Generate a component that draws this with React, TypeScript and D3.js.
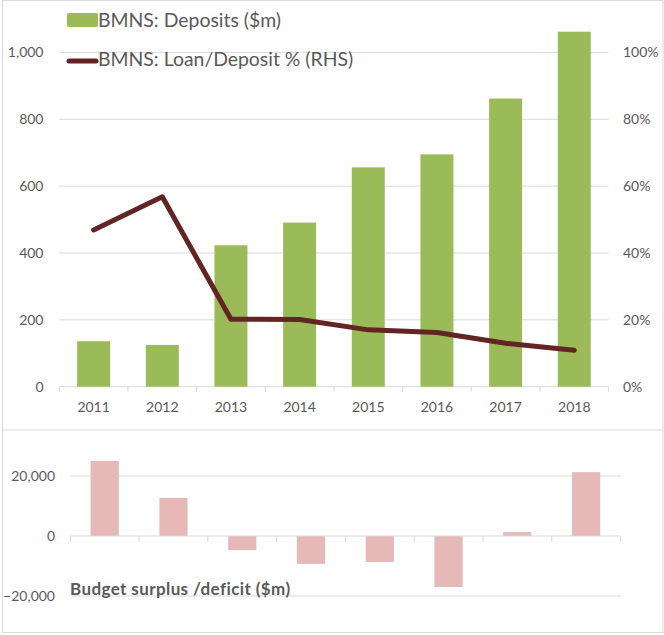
import React from "react";
import * as d3 from "d3";

const years = ["2011", "2012", "2013", "2014", "2015", "2016", "2017", "2018"];
const deposits = [136, 125, 423, 491, 656, 695, 862, 1062];
const loanDepositPct = [46.9, 56.8, 20.2, 20.1, 17.0, 16.2, 13.0, 10.9];
const budget = [25000, 12700, -4700, -9300, -8700, -17000, 1300, 21300];
const leftTicks = [0, 200, 400, 600, 800, 1000];
const rightTicks = [0, 20, 40, 60, 80, 100];
const budgetTicks = [-20000, 0, 20000];

const W = 664;
const H = 635;
const FONT = "Lato, 'Open Sans', sans-serif";
const TXT = "#595959";
const GRID = "#D9D9D9";

export default function App() {
  const xTop = d3.scaleBand<string>().domain(years).range([59.3, 608.6]).paddingInner(0.52).paddingOuter(0.26);
  const yL = d3.scaleLinear().domain([0, 1000]).range([386.7, 52.4]);
  const yR = d3.scaleLinear().domain([0, 100]).range([386.7, 52.4]);
  const xBot = d3.scaleBand<string>().domain(years).range([70.3, 620.5]).paddingInner(0.59).paddingOuter(0.295);
  const yB = d3.scaleLinear().domain([-20000, 20000]).range([596, 476]);

  const fmt = d3.format(",");
  const line = d3
    .line<number>()
    .x((_, i) => (xTop(years[i]) as number) + xTop.bandwidth() / 2)
    .y((d) => yR(d));

  const topStep = xTop.step();
  const topStart = 59.3;
  const botStep = xBot.step();
  const botStart = 70.3;

  return (
    <svg width={W} height={H} style={{ position: "absolute", left: 0, top: 0, background: "#fff" }} fontFamily={FONT}>
      <rect x={0} y={0} width={W} height={H} fill="#fff" />
      {/* frame */}
      <rect x={2.5} y={0.5} width={660.5} height={632} fill="none" stroke={GRID} strokeWidth={1} />
      <line x1={2.5} x2={663} y1={430} y2={430} stroke={GRID} strokeWidth={1} />

      {/* top chart gridlines */}
      {leftTicks.filter((t) => t > 0).map((t) => (
        <line key={t} x1={59.3} x2={608.6} y1={yL(t)} y2={yL(t)} stroke={GRID} strokeWidth={1} />
      ))}
      {/* axis */}
      <line x1={59.3} x2={608.6} y1={yL(0)} y2={yL(0)} stroke={GRID} strokeWidth={1} />
      {d3.range(years.length + 1).map((i) => (
        <line key={i} x1={topStart + i * topStep} x2={topStart + i * topStep} y1={yL(0)} y2={yL(0) + 5} stroke={GRID} />
      ))}

      {/* bars */}
      {deposits.map((d, i) => (
        <rect key={years[i]} x={xTop(years[i])} y={yL(d)} width={xTop.bandwidth()} height={yL(0) - yL(d)} fill="#9BBB59" />
      ))}
      {/* line */}
      <path d={line(loanDepositPct) || ""} fill="none" stroke="#632523" strokeWidth={5} strokeLinejoin="round" strokeLinecap="round" />

      {/* left ticks */}
      {leftTicks.map((t) => (
        <text key={t} x={43.5} y={yL(t)} dy="0.35em" textAnchor="end" fontSize={14} fill={TXT}>
          {fmt(t)}
        </text>
      ))}
      {/* right ticks */}
      {rightTicks.map((t) => (
        <text key={t} x={623} y={yR(t)} dy="0.35em" textAnchor="start" fontSize={14} fill={TXT}>
          {t + "%"}
        </text>
      ))}
      {/* x labels */}
      {years.map((y) => (
        <text key={y} x={(xTop(y) as number) + xTop.bandwidth() / 2} y={407} dy="0.35em" textAnchor="middle" fontSize={14} fill={TXT}>
          {y}
        </text>
      ))}

      {/* legend */}
      <rect x={67} y={13} width={31} height={14} rx={2} fill="#9BBB59" />
      <text x={98} y={20} dy="0.35em" fontSize={19.4} fill={TXT}>BMNS: Deposits ($m)</text>
      <line x1={69} x2={96} y1={61} y2={61} stroke="#632523" strokeWidth={5} strokeLinecap="round" />
      <text x={98} y={59} dy="0.35em" fontSize={19.4} fill={TXT}>BMNS: Loan/Deposit % (RHS)</text>

      {/* bottom chart */}
      {budgetTicks.filter((t) => t !== 0).map((t) => (
        <line key={t} x1={70.3} x2={620.5} y1={yB(t)} y2={yB(t)} stroke={GRID} strokeWidth={1} />
      ))}
      {budget.map((d, i) => (
        <rect
          key={years[i]}
          x={xBot(years[i])}
          y={Math.min(yB(d), yB(0))}
          width={xBot.bandwidth()}
          height={Math.abs(yB(d) - yB(0))}
          fill="#E6B9B8"
        />
      ))}
      <line x1={70.3} x2={620.5} y1={yB(0)} y2={yB(0)} stroke={GRID} strokeWidth={1} />
      {d3.range(years.length + 1).map((i) => (
        <line key={i} x1={botStart + i * botStep} x2={botStart + i * botStep} y1={yB(0)} y2={yB(0) + 6} stroke={GRID} />
      ))}
      {budgetTicks.map((t) => (
        <text key={t} x={55} y={yB(t)} dy="0.35em" textAnchor="end" fontSize={14} fill={TXT}>
          {fmt(t)}
        </text>
      ))}
      <text x={70} y={589} dy="0.35em" fontSize={17} fontWeight="bold" letterSpacing={0.4} fill={TXT}>
        Budget surplus /deficit ($m)
      </text>
    </svg>
  );
}
